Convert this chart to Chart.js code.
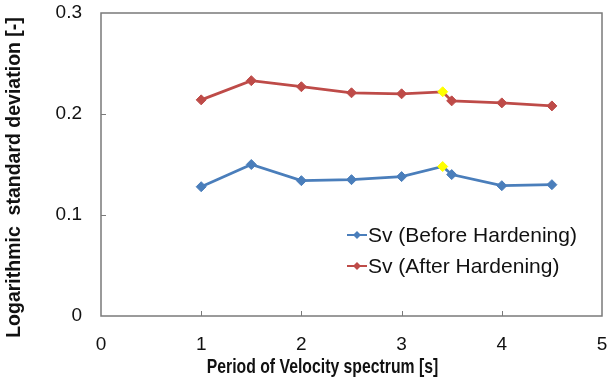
<!DOCTYPE html>
<html>
<head>
<meta charset="utf-8">
<script src="https://cdn.jsdelivr.net/npm/chart.js@4"></script>
<style>
  html, body { margin: 0; padding: 0; background: #fff; }
</style>
</head>
<body>
<canvas id="myChart" width="608" height="387"></canvas>
<script>
// period [s] of each point (3.41 is the highlighted point)
const periods = [1, 1.5, 2, 2.5, 3, 3.41, 3.5, 4, 4.5];
const beforeHardening = [0.128, 0.150, 0.134, 0.135, 0.138, 0.148, 0.140, 0.129, 0.130];
const afterHardening = [0.214, 0.233, 0.227, 0.221, 0.220, 0.222, 0.213, 0.211, 0.208];
const highlightPeriod = 3.41;

const seriesLabels = ['Sv (Before Hardening)', 'Sv (After Hardening)'];
const xTicks = [0, 1, 2, 3, 4, 5];
const yTicks = [0, 0.1, 0.2, 0.3];
const xTitle = 'Period of Velocity spectrum [s]';
const yTitle = 'Logarithmic  standard deviation [-]';

const blue = '#4A7EBB';
const red = '#BE4B48';
const yellow = '#FFFF00';
const textColor = '#111';
const fontFamily = 'Arial, "Liberation Sans", sans-serif';

Chart.defaults.font.family = fontFamily;
Chart.defaults.color = textColor;

const toPoints = (ys) => periods.map((x, i) => ({ x: x, y: ys[i] }));

const markerColor = (color) => (ctx) =>
    periods[ctx.dataIndex] === highlightPeriod ? yellow : color;

function makeDataset(label, ys, color) {
    return {
        label: label,
        data: toPoints(ys),
        borderColor: color,
        borderWidth: 2.75,
        pointStyle: 'rectRot',
        pointRadius: 5,
        pointBorderWidth: 1,
        pointBackgroundColor: markerColor(color),
        pointBorderColor: markerColor(color),
        tension: 0
    };
}

// plot frame and the small inward tick marks
const frameAndTicks = {
    id: 'frameAndTicks',
    beforeDatasetsDraw(chart) {
        const { ctx, chartArea: a, scales } = chart;
        ctx.save();
        ctx.strokeStyle = '#7a7a7a';
        ctx.lineWidth = 1.5;
        ctx.strokeRect(a.left, a.top, a.right - a.left, a.bottom - a.top);
        ctx.lineWidth = 1;
        ctx.beginPath();
        xTicks.slice(1, -1).forEach((v) => {
            const px = Math.round(scales.x.getPixelForValue(v)) + 0.5;
            ctx.moveTo(px, a.bottom);
            ctx.lineTo(px, a.bottom - 5);
        });
        yTicks.slice(1, -1).forEach((v) => {
            const py = Math.round(scales.y.getPixelForValue(v)) + 0.5;
            ctx.moveTo(a.left, py);
            ctx.lineTo(a.left + 5, py);
        });
        ctx.stroke();
        ctx.restore();
    }
};

// axis titles (x title is a bit condensed, like the original)
const axisTitles = {
    id: 'axisTitles',
    afterDraw(chart) {
        const { ctx, chartArea: a } = chart;
        ctx.save();
        ctx.fillStyle = textColor;
        ctx.textAlign = 'center';
        ctx.textBaseline = 'middle';

        const cx = (a.left + a.right) / 2 - 29;
        ctx.save();
        ctx.font = 'bold 20.5px ' + fontFamily;
        ctx.translate(cx, a.bottom + 51);
        ctx.scale(0.77, 1);
        ctx.fillText(xTitle, 0, 0);
        ctx.restore();

        ctx.save();
        ctx.font = 'bold 19.5px ' + fontFamily;
        ctx.translate(15, (a.top + a.bottom) / 2 + 13);
        ctx.rotate(-Math.PI / 2);
        ctx.fillText(yTitle, 0, 0);
        ctx.restore();
        ctx.restore();
    }
};

// legend drawn inside the plot, line + diamond sample
const insideLegend = {
    id: 'insideLegend',
    afterDraw(chart) {
        const { ctx, chartArea: a } = chart;
        const x0 = a.left + 246;
        const rows = [a.top + 222, a.top + 253];
        ctx.save();
        chart.data.datasets.forEach((ds, i) => {
            const y = rows[i];
            ctx.strokeStyle = ds.borderColor;
            ctx.lineWidth = 2;
            ctx.beginPath();
            ctx.moveTo(x0, y);
            ctx.lineTo(x0 + 20, y);
            ctx.stroke();
            ctx.fillStyle = ds.borderColor;
            ctx.beginPath();
            ctx.moveTo(x0 + 10, y - 4);
            ctx.lineTo(x0 + 14, y);
            ctx.lineTo(x0 + 10, y + 4);
            ctx.lineTo(x0 + 6, y);
            ctx.closePath();
            ctx.fill();
            ctx.fillStyle = textColor;
            ctx.font = '21px ' + fontFamily;
            ctx.textBaseline = 'middle';
            ctx.fillText(ds.label, x0 + 21, y + 1);
        });
        ctx.restore();
    }
};

const config = {
    type: 'line',
    data: {
        datasets: [
            makeDataset(seriesLabels[0], beforeHardening, blue),
            makeDataset(seriesLabels[1], afterHardening, red)
        ]
    },
    options: {
        responsive: false,
        animation: false,
        layout: { padding: { left: 2, top: 13, right: 5, bottom: 6 } },
        plugins: {
            legend: { display: false },
            tooltip: { enabled: false }
        },
        scales: {
            x: {
                type: 'linear',
                min: 0,
                max: 5,
                afterBuildTicks: (scale) => { scale.ticks = xTicks.map((v) => ({ value: v })); },
                grid: { display: false, drawTicks: false },
                border: { display: false },
                ticks: { font: { size: 19 }, padding: 17, maxRotation: 0 },
                afterFit: (scale) => {
                    scale.height = 387 - 316 - 6;
                    scale.paddingLeft = 0;
                    scale.paddingRight = 0;
                }
            },
            y: {
                type: 'linear',
                min: 0,
                max: 0.3,
                afterBuildTicks: (scale) => { scale.ticks = yTicks.map((v) => ({ value: v })); },
                grid: { display: false, drawTicks: false },
                border: { display: false },
                ticks: {
                    font: { size: 19 },
                    padding: 19,
                    callback: (v) => String(+v.toFixed(1))
                },
                afterFit: (scale) => {
                    scale.width = 101 - 2;
                    scale.paddingTop = 0;
                    scale.paddingBottom = 0;
                }
            }
        }
    },
    plugins: [frameAndTicks, axisTitles, insideLegend]
};

const myChart = new Chart(document.getElementById('myChart'), config);
</script>
</body>
</html>
